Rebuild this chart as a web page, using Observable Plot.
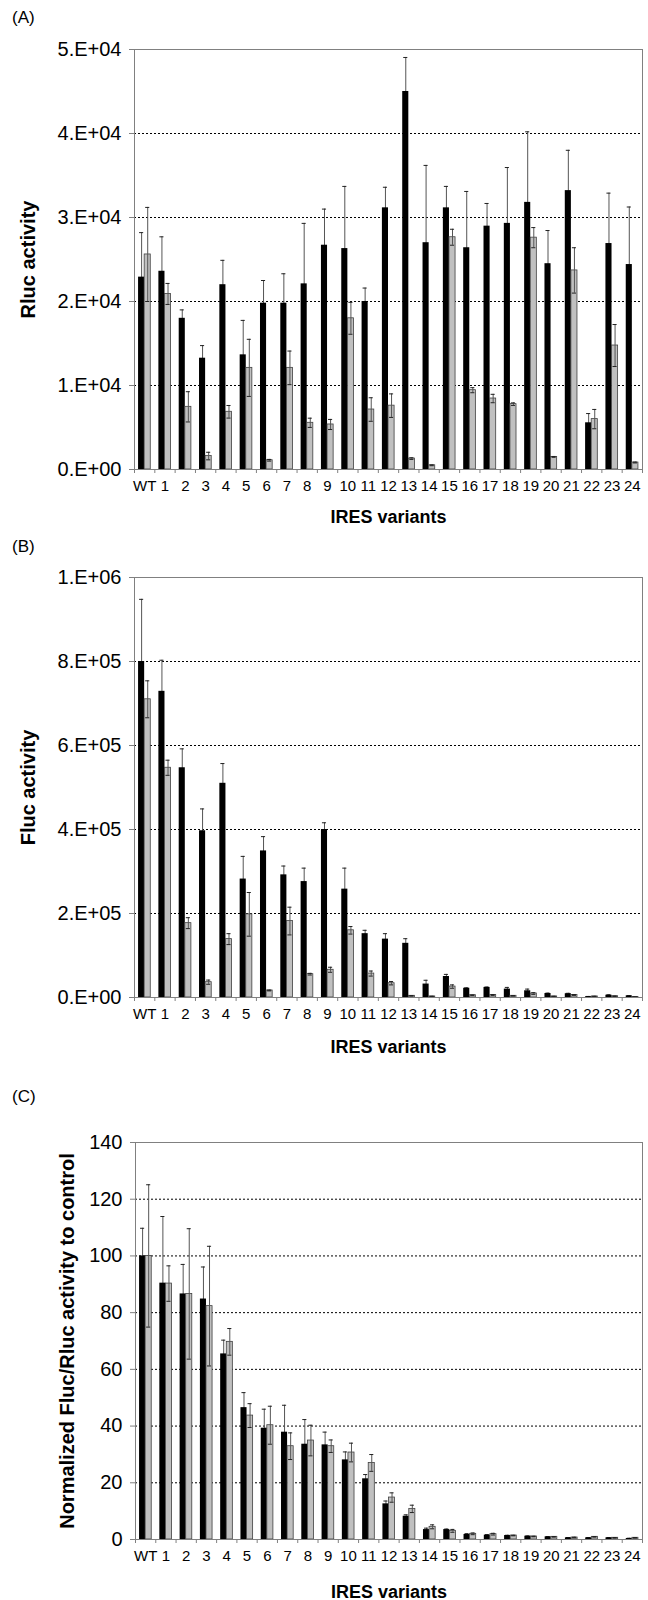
<!DOCTYPE html>
<html>
<head>
<meta charset="utf-8">
<script src="https://cdn.jsdelivr.net/npm/d3@7"></script>
<script src="https://cdn.jsdelivr.net/npm/@observablehq/plot@0.6"></script>
<style>
  html, body { margin: 0; padding: 0; background: #fff; }
  #wrap { position: relative; width: 648px; height: 1600px; font-family: Arial, "Liberation Sans", sans-serif; color: #000; }
  .plabel { position: absolute; left: 12px; font-size: 17px; line-height: 17px; }
  .panel { position: absolute; left: 0; }
</style>
</head>
<body>
<div id="wrap"></div>
<script>
// ---- Data ----
const variants = ["WT","1","2","3","4","5","6","7","8","9","10","11","12","13","14","15","16","17","18","19","20","21","22","23","24"];

// (A) Rluc activity
const rlucBlack    = [22900,23600,18000,13250,22000,13650,19800,19800,22100,26700,26300,20000,31150,45000,27000,31150,26400,28970,29300,31800,24500,33200,5560,26900,24400];
const rlucBlackErr = [5300,4100,1000,1500,2900,4100,2700,3500,7200,4300,7400,1600,2450,4050,9200,2550,6700,2700,6650,8400,3950,4800,1100,6000,6850];
const rlucGray     = [25600,20900,7460,1600,6870,12100,1100,12100,5560,5360,18000,7140,7600,1300,500,27650,9440,8450,7780,27600,1500,23700,6000,14760,830];
const rlucGrayErr  = [5600,1250,1800,450,750,3400,100,2000,550,600,1900,1400,1400,100,50,950,300,500,150,1200,50,2700,1150,2500,50];
const rlucTicks      = [0,10000,20000,30000,40000,50000];
const rlucTickLabels = ["0.E+00","1.E+04","2.E+04","3.E+04","4.E+04","5.E+04"];

// (B) Fluc activity
const flucBlack    = [800000,729000,547000,397000,510000,282000,349000,292000,276000,400000,258000,152000,139000,129000,32000,50000,22000,24000,20000,16000,9500,9000,2000,5500,4000];
const flucBlackErr = [148000,74000,45000,52000,47000,54000,34000,21000,32000,16000,50000,8000,13000,11000,9000,5000,1000,1000,4000,4000,1000,1000,500,1000,500];
const flucGray     = [710000,547000,177000,36500,139000,198000,16700,182000,55500,66000,160000,57000,34000,4000,2500,26000,5500,6000,4000,9500,2500,6000,2500,3000,1000];
const flucGrayErr  = [44000,18000,13000,5000,13000,52000,1000,33000,2000,6000,9000,6000,4000,500,500,4000,500,1000,500,2000,500,1000,500,500,500];
const flucTicks      = [0,200000,400000,600000,800000,1000000];
const flucTickLabels = ["0.E+00","2.E+05","4.E+05","6.E+05","8.E+05","1.E+06"];

// (C) Normalized Fluc/Rluc activity
const ratioBlack    = [100,90.4,86.6,84.8,65.45,46.5,39.25,37.84,33.6,33.37,28.08,21.4,12.57,8.2,3.5,3.5,1.76,1.53,1.4,1.17,0.94,0.6,0.6,0.6,0.35];
const ratioBlackErr = [9.75,23.5,10.4,11.3,4.85,5.3,6.7,9.5,8.7,4.5,2.8,1.5,1.0,0.5,0.5,0.2,0.3,0.2,0.1,0.1,0.1,0.1,0.1,0.1,0.1];
const ratioGray     = [100,90.25,86.6,82.3,69.7,43.7,40.3,32.9,34.9,32.9,30.67,27.0,14.8,10.8,4.47,3.05,2.0,1.88,1.4,1.06,0.94,0.7,0.94,0.6,0.6];
const ratioGrayErr  = [25.1,6.25,23.0,21.1,4.7,4.2,6.7,4.7,5.4,2.2,3.3,2.96,1.65,1.3,0.7,0.5,0.3,0.3,0.1,0.1,0.1,0.1,0.1,0.1,0.1];
const ratioTicks      = [0,20,40,60,80,100,120,140];
const ratioTickLabels = ["0","20","40","60","80","100","120","140"];

const xTitle = "IRES variants";
const panelLabels = ["(A)","(B)","(C)"];
const yTitles = ["Rluc activity","Fluc activity","Normalized Fluc/Rluc activity to control"];

// ---- Drawing ----
const narrowFont = "'Liberation Sans Narrow', 'Arial Narrow', Arial, sans-serif";
function panel(cfg) {
  const {marginLeft, marginTop, plotH, marginBottom, ticks, tickLabels, yTitle, yTitleX, black, blackErr, gray, grayErr, xTitleDy} = cfg;
  const right = 642;
  const step = (right - marginLeft) / variants.length;
  const half = step * 0.15;
  const rowsB = variants.map((v, i) => ({variant: v, value: black[i], err: blackErr[i]}));
  const rowsG = variants.map((v, i) => ({variant: v, value: gray[i], err: grayErr[i]}));
  const lo = d => Math.max(0, d.value - d.err);
  const hi = d => d.value + d.err;
  const errColor = "#555";
  const capColor = "#222";
  return Plot.plot({
    width: 648,
    height: marginTop + plotH + marginBottom,
    marginLeft, marginRight: 648 - right, marginTop, marginBottom,
    style: {fontFamily: "Arial, 'Liberation Sans', sans-serif", fontSize: "20px", color: "#000", background: "transparent", overflow: "visible"},
    x: {type: "band", domain: variants, paddingInner: 0.7, paddingOuter: 0.35, round: false},
    y: {domain: [ticks[0], ticks[ticks.length - 1]]},
    marks: [
      Plot.gridY(ticks, {stroke: "#000", strokeOpacity: 1, strokeDasharray: "2,2"}),
      Plot.ruleX(rowsB, {x: "variant", y1: lo, y2: hi, dx: -half, stroke: errColor}),
      Plot.tickY(rowsB, {x: "variant", y: hi, dx: -half, insetLeft: 1, insetRight: 1, stroke: capColor}),
      Plot.barY(rowsB, {x: "variant", y1: 0, y2: "value", dx: -half, fill: "#000"}),
      Plot.barY(rowsG, {x: "variant", y1: 0, y2: "value", dx: half, fill: "#c0c0c0", stroke: "#404040", strokeWidth: 0.8}),
      Plot.ruleX(rowsG, {x: "variant", y1: lo, y2: hi, dx: half, stroke: errColor}),
      Plot.tickY(rowsG, {x: "variant", y: hi, dx: half, insetLeft: 1, insetRight: 1, stroke: capColor}),
      Plot.tickY(rowsG, {x: "variant", y: lo, dx: half, insetLeft: 1, insetRight: 1, stroke: capColor}),
      Plot.frame({stroke: "#808080"}),
      Plot.axisY(ticks, {tickSize: 5, tickPadding: 8, stroke: "#808080", fill: "#000", fontSize: 20,
        tickFormat: d => tickLabels[ticks.indexOf(d)], label: null}),
      Plot.axisX({stroke: "none", fill: "#000", tickSize: 0, tickPadding: 11, fontSize: 15, fontFamily: narrowFont, label: null}),
      Plot.axisX({fill: "none", tickSize: 4, stroke: "#808080", dx: step / 2, label: null}),
      Plot.axisX([variants[0]], {fill: "none", tickSize: 4, stroke: "#808080", dx: -step / 2, label: null}),
      Plot.text([yTitle], {frameAnchor: "left", text: d => d, rotate: -90, textAnchor: "middle", lineAnchor: "middle",
        dx: yTitleX - marginLeft, fontWeight: "bold", fontSize: 20, fill: "#000"}),
      Plot.text([xTitle], {frameAnchor: "bottom", text: d => d, textAnchor: "middle", lineAnchor: "middle",
        dy: xTitleDy, fontWeight: "bold", fontSize: 18, fill: "#000"})
    ]
  });
}

const wrap = document.getElementById("wrap");
function place(el, top) {
  el.classList.add("panel");
  el.style.top = top + "px";
  wrap.appendChild(el);
}
function label(text, top) {
  const d = document.createElement("div");
  d.className = "plabel";
  d.style.top = top + "px";
  d.textContent = text;
  wrap.appendChild(d);
}

place(panel({marginLeft: 134, marginTop: 19, plotH: 420, marginBottom: 62, ticks: rlucTicks, tickLabels: rlucTickLabels,
  yTitle: yTitles[0], yTitleX: 28, black: rlucBlack, blackErr: rlucBlackErr, gray: rlucGray, grayErr: rlucGrayErr, xTitleDy: 48}), 30);
place(panel({marginLeft: 134, marginTop: 32, plotH: 420, marginBottom: 62, ticks: flucTicks, tickLabels: flucTickLabels,
  yTitle: yTitles[1], yTitleX: 28, black: flucBlack, blackErr: flucBlackErr, gray: flucGray, grayErr: flucGrayErr, xTitleDy: 50}), 545);
place(panel({marginLeft: 135, marginTop: 32, plotH: 397, marginBottom: 58, ticks: ratioTicks, tickLabels: ratioTickLabels,
  yTitle: yTitles[2], yTitleX: 67, black: ratioBlack, blackErr: ratioBlackErr, gray: ratioGray, grayErr: ratioGrayErr, xTitleDy: 53}), 1110);

label(panelLabels[0], 9);
label(panelLabels[1], 538);
label(panelLabels[2], 1088);
</script>
</body>
</html>
